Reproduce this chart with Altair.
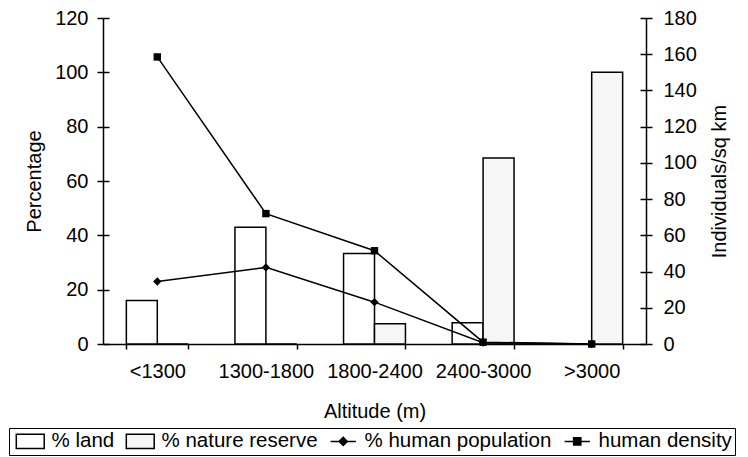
import altair as alt
import pandas as pd

# ---- data ----
categories = ["<1300", "1300-1800", "1800-2400", "2400-3000", ">3000"]
pct_land = [16, 43, 33.3, 7.8, 0]
pct_reserve = [0, 0, 7.5, 68.5, 100]
pct_population = [23, 28.2, 15.4, 0.5, 0]
density = [158.5, 72, 51.5, 1, 0]
series_names = ["% land", "% nature reserve", "% human population", "human density"]
left_ticks = [0, 20, 40, 60, 80, 100, 120]
right_ticks = [0, 20, 40, 60, 80, 100, 120, 140, 160, 180]

FONT = "Liberation Sans"

bars_df = pd.DataFrame({
    "altitude": categories * 2,
    "series": [series_names[0]] * 5 + [series_names[1]] * 5,
    "value": pct_land + pct_reserve,
})
pop_df = pd.DataFrame({"altitude": categories, "series": series_names[2], "value": pct_population})
dens_df = pd.DataFrame({"altitude": categories, "series": series_names[3], "value": density})

# legend symbol paths (unit = sqrt(symbolSize)/2)
rect_sym = "M-1.55,-0.78H1.55V0.78H-1.55Z"
line_diamond = "M-1.4,0H1.4M-0.45,0L0,-0.45L0.45,0L0,0.45Z"
line_square = "M-1.4,0H1.4M-0.4,-0.4H0.4V0.4H-0.4Z"

fill_scale = alt.Scale(domain=series_names, range=["white", "#f6f6f6", "black", "black"])
stroke_scale = alt.Scale(domain=series_names, range=["black", "black", "black", "black"])
shape_scale = alt.Scale(domain=series_names, range=[rect_sym, rect_sym, line_diamond, line_square])

legend_def = alt.Legend(
    title=None, orient="none", legendX=-94, legendY=410, direction="horizontal",
    columns=4, strokeColor="black", padding=3, labelFont=FONT, labelFontSize=20.5,
    labelColor="black", labelLimit=400, labelOffset=11, columnPadding=7,
    symbolOffset=8, symbolSize=324, symbolStrokeWidth=1.5, symbolStrokeColor="black",
    symbolOpacity=1,
)

x_scale = alt.Scale(domain=categories, paddingInner=0.43, paddingOuter=0.215)
x_enc = alt.X(
    "altitude:N", scale=x_scale, sort=categories,
    axis=alt.Axis(title="Altitude (m)", labelAngle=0, tickBand="extent",
                  labelPadding=12, titlePadding=20, tickSize=5),
)

left_axis = alt.Axis(title="Percentage", values=left_ticks, orient="left",
                     labelPadding=9, titlePadding=10)
right_axis = alt.Axis(title="Individuals/sq km", values=right_ticks, orient="right",
                      labelPadding=11, titlePadding=13, titleAngle=270, titleBaseline="top")
# inner halves of the crossing tick marks
left_inner = alt.Axis(title=None, values=left_ticks, orient="left", offset=-6,
                      labels=False, domain=False, tickSize=6)
right_inner = alt.Axis(title=None, values=right_ticks, orient="right", offset=-6,
                       labels=False, domain=False, tickSize=6)

left_dom = alt.Scale(domain=[0, 120], nice=False)
right_dom = alt.Scale(domain=[0, 180], nice=False)
y_left = alt.Y("value:Q", scale=left_dom, axis=left_axis)
y_right = alt.Y("value:Q", scale=right_dom, axis=right_axis)

legend_carrier = alt.Chart(pop_df).mark_point(opacity=0, strokeWidth=1.5).encode(
    x=x_enc, y=y_left,
    shape=alt.Shape("series:N", scale=shape_scale, legend=legend_def),
    fill=alt.Fill("series:N", scale=fill_scale, legend=legend_def),
    stroke=alt.Stroke("series:N", scale=stroke_scale, legend=legend_def),
)

bars = alt.Chart(bars_df).mark_bar(stroke="black", strokeWidth=1.5).encode(
    x=x_enc,
    xOffset=alt.XOffset("series:N", scale=alt.Scale(domain=series_names[:2], paddingInner=0, paddingOuter=0)),
    y=y_left,
    fill=alt.Fill("series:N", scale=fill_scale, legend=legend_def),
)

pop_line = alt.Chart(pop_df).mark_line(color="black", strokeWidth=1.5).encode(x=x_enc, y=y_left)
pop_pts = alt.Chart(pop_df).mark_point(shape="diamond", filled=True, color="black", size=70, opacity=1).encode(x=x_enc, y=y_left)

dens_line = alt.Chart(dens_df).mark_line(color="black", strokeWidth=1.5).encode(x=x_enc, y=y_right)
dens_pts = alt.Chart(dens_df).mark_point(shape="square", filled=True, color="black", size=55, opacity=1).encode(x=x_enc, y=y_right)

left_ticks_layer = alt.Chart(pop_df).mark_point(opacity=0).encode(
    x=x_enc, y=alt.Y("value:Q", scale=left_dom, axis=left_inner))
right_ticks_layer = alt.Chart(dens_df).mark_point(opacity=0).encode(
    x=x_enc, y=alt.Y("value:Q", scale=right_dom, axis=right_inner))

left_layer = alt.layer(legend_carrier, bars, pop_line, pop_pts)
right_layer = alt.layer(dens_line, dens_pts)

chart = alt.layer(left_layer, right_layer, left_ticks_layer, right_ticks_layer).resolve_scale(
    y="independent"
).properties(
    width=543, height=326, padding={"left": 0, "top": 0, "right": 0, "bottom": 0},
).configure_view(stroke=None).configure_axis(
    domainColor="black", tickColor="black", labelColor="black", titleColor="black",
    labelFont=FONT, titleFont=FONT, labelFontSize=20, titleFontSize=20,
    titleFontWeight="normal", grid=False, domainWidth=1.5, tickWidth=1.5, tickSize=6,
)

chart.save("out.html", embed_options={"renderer": "svg", "actions": False})
